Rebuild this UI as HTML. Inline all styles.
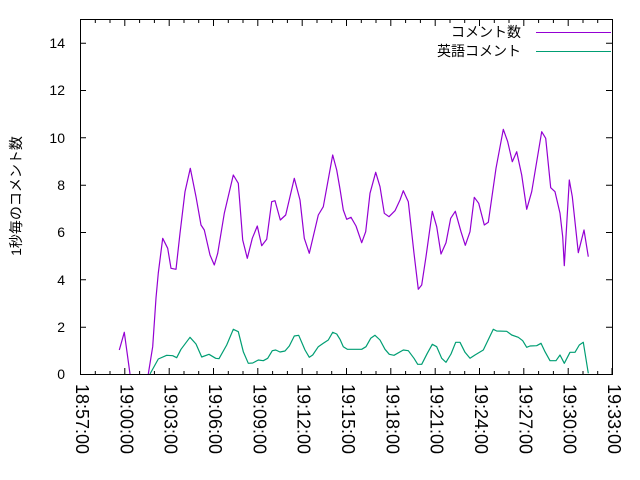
<!DOCTYPE html>
<html><head><meta charset="utf-8"><style>body{margin:0;background:#fff}svg{display:block}text{font-family:"Liberation Sans","Noto Sans CJK JP",sans-serif;font-size:14px;fill:#000}.xl text{font-size:18px}</style></head><body>
<svg width="640" height="480" viewBox="0 0 640 480" xmlns="http://www.w3.org/2000/svg">
<rect width="640" height="480" fill="#fff"/>
<g stroke="#000" stroke-width="1" fill="none">
<rect x="80.5" y="19.5" width="532" height="355"/>
<path d="M80 374.5h6M612 374.5h-6M80 327.2h6M612 327.2h-6M80 279.8h6M612 279.8h-6M80 232.5h6M612 232.5h-6M80 185.2h6M612 185.2h-6M80 137.8h6M612 137.8h-6M80 90.5h6M612 90.5h-6M80 43.2h6M612 43.2h-6"/>
<path d="M80.5 374v-6M124.8 374v-6M169.2 374v-6M213.5 374v-6M257.8 374v-6M302.2 374v-6M346.5 374v-6M390.8 374v-6M435.2 374v-6M479.5 374v-6M523.8 374v-6M568.2 374v-6M612 374v-6
M80.5 20v6M124.8 20v6M169.2 20v6M213.5 20v6M257.8 20v6M302.2 20v6M346.5 20v6M390.8 20v6M435.2 20v6M479.5 20v6M523.8 20v6M568.2 20v6"/>
<path d="M95.3 374v-3M110 374v-3M139.6 374v-3M154.4 374v-3M184 374v-3M198.7 374v-3M228.3 374v-3M243 374v-3M272.6 374v-3M287.4 374v-3M317 374v-3M331.7 374v-3M361.3 374v-3M376 374v-3M405.6 374v-3M420.4 374v-3M450 374v-3M464.7 374v-3M494.3 374v-3M509 374v-3M538.6 374v-3M553.4 374v-3M583 374v-3M597.7 374v-3
M95.3 20v3M110 20v3M139.6 20v3M154.4 20v3M184 20v3M198.7 20v3M228.3 20v3M243 20v3M272.6 20v3M287.4 20v3M317 20v3M331.7 20v3M361.3 20v3M376 20v3M405.6 20v3M420.4 20v3M450 20v3M464.7 20v3M494.3 20v3M509 20v3M538.6 20v3M553.4 20v3M583 20v3M597.7 20v3"/>
</g>
<g text-anchor="end">
<text x="65" y="379">0</text><text x="65" y="332">2</text><text x="65" y="285">4</text><text x="65" y="237">6</text><text x="65" y="190">8</text><text x="65" y="143">10</text><text x="65" y="95">12</text><text x="65" y="48">14</text>
</g>
<g class="xl">
<text transform="translate(80,384) rotate(90)" dy="4">18:57:00</text>
<text transform="translate(124.3,384) rotate(90)" dy="4">19:00:00</text>
<text transform="translate(168.7,384) rotate(90)" dy="4">19:03:00</text>
<text transform="translate(213,384) rotate(90)" dy="4">19:06:00</text>
<text transform="translate(257.3,384) rotate(90)" dy="4">19:09:00</text>
<text transform="translate(301.7,384) rotate(90)" dy="4">19:12:00</text>
<text transform="translate(346,384) rotate(90)" dy="4">19:15:00</text>
<text transform="translate(390.3,384) rotate(90)" dy="4">19:18:00</text>
<text transform="translate(434.7,384) rotate(90)" dy="4">19:21:00</text>
<text transform="translate(479,384) rotate(90)" dy="4">19:24:00</text>
<text transform="translate(523.3,384) rotate(90)" dy="4">19:27:00</text>
<text transform="translate(567.7,384) rotate(90)" dy="4">19:30:00</text>
<text transform="translate(612,384) rotate(90)" dy="4">19:33:00</text>
</g>
<text transform="translate(21,196) rotate(-90)" text-anchor="middle">1秒毎のコメント数</text>
<text x="521" y="37" text-anchor="end">コメント数</text>
<text x="521" y="56" text-anchor="end">英語コメント</text>
<path d="M536 32.5h75" stroke="#9400d3" stroke-width="1"/>
<path d="M536 51.5h75" stroke="#009e73" stroke-width="1"/>
<g fill="none" stroke-width="1.2" stroke-linejoin="round">
<polyline stroke="#9400d3" points="119.3,350 124.3,332.3 130,374"/>
<polyline stroke="#9400d3" points="148.3,374 152.7,346.7 156,298 158.3,273 162.7,238.3 167.7,248.3 171,268.3 176,269.3 180,233.3 185,191.7 190.3,168.3 196,196.7 201,225 204.3,230 210,255 214.3,265 217.7,253.3 224.3,213.3 233.3,175 238.3,183.3 242.7,240 247.3,258.3 252.3,238.3 257.3,226 261.7,245.7 266.7,239.3 271.7,201.7 275,200.7 280.3,220 285.7,215 294.3,178.3 300,200 304.3,238.3 309.3,253.3 318.3,215 323.3,206.7 332.7,155 336.7,170 340,189 343.3,210 346.7,219.3 351,217.3 356,226 361.7,242.7 365.7,231.7 370,193.3 375.7,172.3 380,186.7 384.3,213.3 389,216.7 395,210.7 400,200 403.3,190.7 408.3,201.7 414,253.3 418.3,289.3 421.7,285 426,256.7 432.3,211.3 436.7,226.7 441,254 446,242.7 450.7,218.3 455.3,211.3 461,231.7 465.3,245.3 470,231.7 474.3,197.3 478.7,203.3 484.3,225 488.3,222.3 496,168.3 503.3,129.3 507.7,141.7 512.3,161.7 516.7,151.7 521.7,175 526.7,209.3 531.7,191.7 541.7,131.7 545.7,138.3 550.7,187.7 555,191.7 560,213.3 562.7,236.7 564.3,265.7 569.3,180 572.3,196.7 578.3,252.7 584,230 588.3,256.7"/>
<polyline stroke="#009e73" points="150,374 158.3,359 166.7,355.3 172.7,355.7 176.7,357.7 181,349.3 190,337.3 196,344 201.7,357 209,354.3 215.7,358.3 219,358.7 226.7,345 233.3,329.3 238.3,331.7 243.3,351.7 248.3,363.3 252.7,363 258.3,360 263.3,360.7 267.7,358.3 272.3,350.7 275.7,350 280,352 285,351 289.3,346 294.3,336 298.7,335.3 305,350 309.3,357.3 312.7,355 318.3,346.7 323.3,343.3 328.3,340 332.7,332.3 336.7,334 340,339.3 343.3,346.7 347.3,349.3 361.7,349.3 366,346.7 370.7,338.3 375,335.3 380,340 385,349.3 389.3,354.3 394,355.3 403.3,350 408.3,350.7 414,358.3 417.7,364.3 421.7,364.3 427.3,353.3 432.3,344.3 436.7,346.7 441.7,358.3 446,362.3 451,354 455.7,342.3 460,342.3 465,352.3 470,358.3 475,355 483.3,350 493.3,329.3 496.7,331 506.7,331.3 511.7,335 518.3,337.3 522.7,340.7 526.7,347.3 530,346 536.7,345.7 541,343.3 545,351.7 550,360.7 556,360.7 560,355 564.3,363.3 570,352.3 575,352.3 579.3,345 583.3,342.3 588.3,373.3"/>
</g>
</svg>
</body></html>
